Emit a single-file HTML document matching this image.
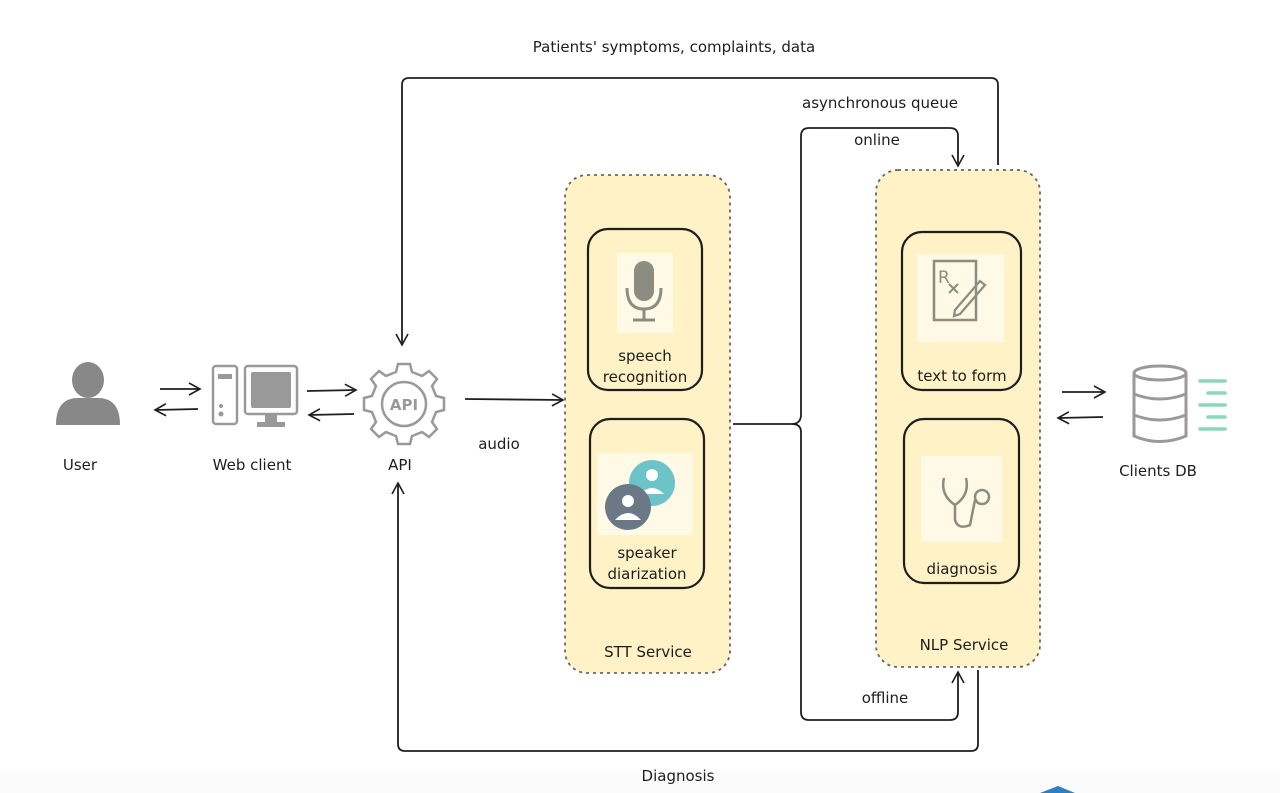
<!DOCTYPE html>
<html><head><meta charset="utf-8"><style>
html,body{margin:0;padding:0;background:#fff;}
svg{display:block;font-family:"DejaVu Sans","Liberation Sans",sans-serif;}
</style></head><body>
<svg width="1280" height="793" viewBox="0 0 1280 793" xmlns="http://www.w3.org/2000/svg">
<defs>
<marker id="ah" markerWidth="14" markerHeight="14" refX="12" refY="7" orient="auto" markerUnits="userSpaceOnUse">
<path d="M1,1 L12,7 L1,13" fill="none" stroke="#1e1e1e" stroke-width="1.6"/>
</marker>
</defs>
<rect x="0" y="772" width="1280" height="21" fill="#fbfbfb"/>
<g font-size="15" fill="#1e1e1e" text-anchor="middle">
<text x="674" y="52">Patients' symptoms, complaints, data</text>
<text x="880" y="108">asynchronous queue</text>
<text x="877" y="145">online</text>
<text x="885" y="703">offline</text>
<text x="678" y="781">Diagnosis</text>
<text x="499" y="449">audio</text>
<text x="80" y="470">User</text>
<text x="252" y="470">Web client</text>
<text x="400" y="470">API</text>
<text x="1158" y="476">Clients DB</text>
</g>
<!-- containers -->
<rect x="565" y="175" width="165" height="498" rx="22" fill="#fff2c6" stroke="#666" stroke-width="1.8" stroke-dasharray="3,4"/>
<rect x="876" y="170" width="164" height="497" rx="22" fill="#fff2c6" stroke="#666" stroke-width="1.8" stroke-dasharray="3,4"/>
<g fill="none" stroke="#1e1e1e" stroke-width="2.2">
<rect x="588" y="229" width="114" height="161" rx="20"/>
<rect x="590" y="419" width="114" height="169" rx="20"/>
<rect x="902" y="232" width="119" height="158" rx="20"/>
<rect x="904" y="419" width="115" height="164" rx="20"/>
</g>
<g fill="#fff9e6">
<rect x="617" y="253" width="56" height="80"/>
<rect x="597" y="453" width="96" height="82"/>
<rect x="917" y="254" width="87" height="88"/>
<rect x="921" y="456" width="81" height="86"/>
</g>
<!-- mic -->
<rect x="634" y="261" width="20" height="40" rx="10" fill="#8a8d80"/>
<path d="M627,288 Q627,309 644,309 Q661,309 661,288" fill="none" stroke="#8a8d80" stroke-width="3"/>
<line x1="644" y1="309" x2="644" y2="320" stroke="#8a8d80" stroke-width="3"/>
<line x1="633" y1="320" x2="655" y2="320" stroke="#8a8d80" stroke-width="3"/>
<!-- diarization -->
<circle cx="652" cy="483" r="23" fill="#6cc4c8"/>
<circle cx="652" cy="475" r="6" fill="#fff"/><path d="M640,494 Q652,482 664,494 Z" fill="#fff"/>
<circle cx="628" cy="507" r="23" fill="#6b7886"/>
<circle cx="628" cy="501" r="6" fill="#fff"/><path d="M615,520 Q628,506 641,520 Z" fill="#fff"/>
<!-- rx -->
<rect x="934" y="261" width="42" height="59" fill="none" stroke="#8a8d80" stroke-width="2.5"/>
<text x="938" y="283" font-size="17" fill="#8a8d80">R</text>
<path d="M949,284 L958,293 M958,284 L949,293" stroke="#8a8d80" stroke-width="2"/>
<path d="M955,310 L980,281 L985,285 L960,314 L954,316 Z" fill="none" stroke="#8a8d80" stroke-width="2.2"/>
<!-- stethoscope -->
<path d="M944,478 Q940,495 955,505 Q970,495 966,478 M955,505 L955,520 Q958,530 970,525 L975,500" fill="none" stroke="#8a8d80" stroke-width="2.5"/>
<circle cx="982" cy="497" r="7" fill="none" stroke="#8a8d80" stroke-width="2.5"/>
<g font-size="15" fill="#1e1e1e" text-anchor="middle">
<text x="645" y="361">speech</text><text x="645" y="382">recognition</text>
<text x="647" y="558">speaker</text><text x="647" y="579">diarization</text>
<text x="962" y="381">text to form</text>
<text x="962" y="574">diagnosis</text>
<text x="648" y="657">STT Service</text>
<text x="964" y="650">NLP Service</text>
</g>
<!-- connectors -->
<g fill="none" stroke="#1e1e1e" stroke-width="1.8">
<path d="M998,165 L998,85 Q998,78 991,78 L409,78 Q402,78 402,85 L402,345" marker-end="url(#ah)"/>
<path d="M978,670 L978,744 Q978,751 971,751 L405,751 Q398,751 398,744 L398,483" marker-end="url(#ah)"/>
<path d="M465,399 L563,400" marker-end="url(#ah)"/>
<path d="M733,424 L792,424 Q800,424 801,416 L801,136 Q801,128 809,128 L950,128 Q958,128 958,136 L958,166" marker-end="url(#ah)"/>
<path d="M792,424 Q801,424 801,432 L801,712 Q801,720 809,720 L950,720 Q958,720 958,712 L958,672" marker-end="url(#ah)"/>
<path d="M160,389 L200,389" marker-end="url(#ah)"/>
<path d="M198,409 L155,410" marker-end="url(#ah)"/>
<path d="M307,391 L356,390" marker-end="url(#ah)"/>
<path d="M354,414 L309,415" marker-end="url(#ah)"/>
<path d="M1062,392 L1105,392" marker-end="url(#ah)"/>
<path d="M1103,417 L1058,418" marker-end="url(#ah)"/>
</g>
<!-- user -->
<ellipse cx="88" cy="380" rx="16" ry="18" fill="#888"/>
<path d="M56,425 Q56,398 78,398 L98,398 Q120,398 120,425 Z" fill="#888"/>
<!-- web client -->
<rect x="213" y="366" width="24" height="58" rx="3" fill="none" stroke="#999" stroke-width="2.5"/>
<rect x="218" y="374" width="14" height="5" fill="#999"/>
<circle cx="221" cy="406" r="2" fill="#999"/><circle cx="221" cy="414" r="2.5" fill="#999"/>
<rect x="245" y="366" width="52" height="48" rx="3" fill="none" stroke="#999" stroke-width="2.5"/>
<rect x="251" y="372" width="40" height="36" rx="2" fill="#999"/>
<rect x="265" y="414" width="12" height="8" fill="#999"/><rect x="257" y="422" width="28" height="5" fill="#999"/>
<!-- api gear -->
<g transform="translate(404,404)" fill="none" stroke="#999" stroke-width="2.5">
<path d="M-6,-40 L6,-40 L8,-32 L18,-28 L25,-33 L33,-25 L28,-18 L32,-8 L40,-6 L40,6 L32,8 L28,18 L33,25 L25,33 L18,28 L8,32 L6,40 L-6,40 L-8,32 L-18,28 L-25,33 L-33,25 L-28,18 L-32,8 L-40,6 L-40,-6 L-32,-8 L-28,-18 L-33,-25 L-25,-33 L-18,-28 L-8,-32 Z"/>
<circle r="22"/>
</g>
<text x="404" y="410" font-size="15" fill="#999" text-anchor="middle" font-weight="bold">API</text>
<!-- DB -->
<g fill="none" stroke="#999" stroke-width="3">
<ellipse cx="1160" cy="373" rx="26" ry="7"/>
<path d="M1134,373 L1134,436 Q1160,447 1186,436 L1186,373"/>
<path d="M1134,394 Q1160,404 1186,394 M1134,415 Q1160,425 1186,415"/>
</g>
<g stroke="#8fd6bf" stroke-width="3.5" stroke-linecap="round">
<line x1="1200" y1="381" x2="1225" y2="381"/><line x1="1208" y1="393" x2="1225" y2="393"/>
<line x1="1200" y1="405" x2="1225" y2="405"/><line x1="1208" y1="417" x2="1225" y2="417"/>
<line x1="1200" y1="429" x2="1225" y2="429"/>
</g>
<path d="M1040,793 L1058,786 L1075,793 Z" fill="#2e7fc1"/>
</svg>
</body></html>
